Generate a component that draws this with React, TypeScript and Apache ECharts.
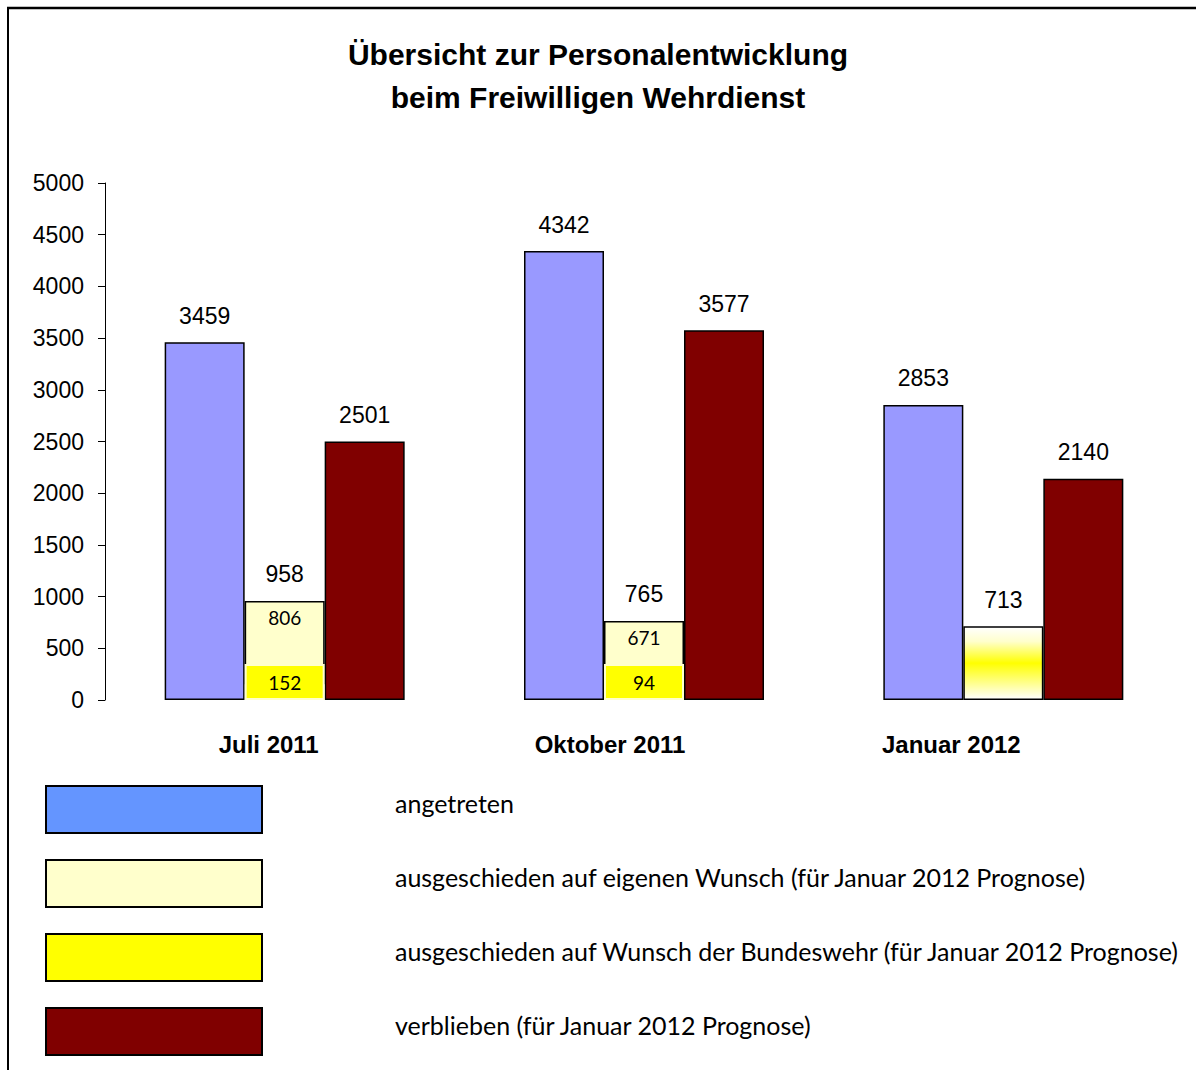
import React, { useEffect, useRef } from "react";
import * as echarts from "echarts";

const categories = ["Juli 2011", "Oktober 2011", "Januar 2012"];
const angetreten = [3459, 4342, 2853];
const eigenerWunsch = [806, 671, 713];
const wunschBundeswehr: (number | string)[] = [152, 94, "-"];
const gesamtAusgeschieden = [958, 765, 713];
const verblieben = [2501, 3577, 2140];
const yTicks = { min: 0, max: 5000, interval: 500 };

const legendNames = [
  "angetreten",
  "ausgeschieden auf eigenen Wunsch (für Januar 2012 Prognose)",
  "ausgeschieden auf Wunsch der Bundeswehr (für Januar 2012 Prognose)",
  "verblieben (für Januar 2012 Prognose)",
];

export default function App() {
  const ref = useRef<HTMLDivElement>(null);
  useEffect(() => {
    document.body.style.margin = "0";
    const chart = echarts.init(ref.current!, null, { renderer: "svg" });
    const border = { borderColor: "#000", borderWidth: 1.5 };
    const gradient = new echarts.graphic.LinearGradient(0, 0, 0, 1, [
      { offset: 0, color: "#ffffff" },
      { offset: 0.2, color: "#ffffcc" },
      { offset: 0.5, color: "#ffff00" },
      { offset: 1, color: "#ffffff" },
    ]);
    const arial = "'Liberation Sans', Arial, sans-serif";
    const calibri = "Lato, 'Noto Sans', sans-serif";
    chart.setOption({
      animation: false,
      backgroundColor: "#ffffff",
      title: {
        text: "Übersicht zur Personalentwicklung\nbeim Freiwilligen Wehrdienst",
        left: "center",
        top: 28,
        textStyle: {
          fontFamily: arial,
          fontWeight: "bold",
          fontSize: 30,
          lineHeight: 43,
          color: "#000",
        },
      },
      grid: [
        { left: 105, right: 13, top: 183, bottom: 370 },
        { left: 98, width: 1024, top: 183, bottom: 370 },
      ],
      xAxis: [
        {
          type: "category",
          gridIndex: 0,
          data: categories,
          axisLine: { show: false },
          axisTick: { show: false },
          axisLabel: { show: false },
        },
        {
          type: "category",
          gridIndex: 1,
          data: categories,
          axisLine: { show: false },
          axisTick: { show: false },
          axisLabel: {
            margin: 32,
            fontFamily: arial,
            fontWeight: "bold",
            fontSize: 24,
            color: "#000",
          },
        },
      ],
      yAxis: [
        {
          type: "value",
          gridIndex: 0,
          min: yTicks.min,
          max: yTicks.max,
          interval: yTicks.interval,
          axisLine: { show: true, lineStyle: { color: "#000", width: 1 } },
          axisTick: { show: true, length: 7, lineStyle: { color: "#000" } },
          splitLine: { show: false },
          axisLabel: {
            margin: 21,
            fontFamily: arial,
            fontSize: 23,
            color: "#000",
            formatter: (v: number) => String(v),
          },
        },
        {
          type: "value",
          gridIndex: 1,
          min: yTicks.min,
          max: yTicks.max,
          show: false,
        },
      ],
      legend: {
        orient: "vertical",
        left: 45,
        top: 785,
        padding: 0,
        itemWidth: 216,
        itemHeight: 47,
        itemGap: 25,
        icon: "rect",
        selectedMode: false,
        itemStyle: { borderColor: "#000", borderWidth: 2 },
        formatter: (name: string) => "{t|" + name + "}",
        textStyle: {
          rich: {
            t: {
              fontFamily: calibri,
              fontSize: 25,
              color: "#000",
              padding: [0, 0, 14, 128],
            },
          },
        },
        data: [
          { name: legendNames[0], itemStyle: { color: "#6495ff" } },
          { name: legendNames[1] },
          { name: legendNames[2] },
          { name: legendNames[3] },
        ],
      },
      series: [
        {
          name: legendNames[0],
          type: "bar",
          data: angetreten,
          barWidth: 80,
          barGap: "0%",
          itemStyle: { color: "#9999ff", ...border },
          label: {
            show: true,
            position: "top",
            distance: 15,
            fontFamily: arial,
            fontSize: 23,
            color: "#000",
          },
        },
        {
          name: legendNames[2],
          type: "bar",
          stack: "aus",
          data: wunschBundeswehr,
          barWidth: 80,
          barGap: "0%",
          barMinHeight: 36,
          z: 3,
          itemStyle: { color: "#ffff00", borderColor: "#ffffcc", borderWidth: 2 },
          label: {
            show: true,
            position: "inside",
            fontFamily: calibri,
            fontSize: 19,
            color: "#000",
          },
        },
        {
          name: legendNames[1],
          type: "bar",
          stack: "aus",
          barWidth: 80,
          barGap: "0%",
          data: eigenerWunsch.map((v, i) =>
            wunschBundeswehr[i] === "-"
              ? { value: v, itemStyle: { color: gradient }, label: { show: false } }
              : v
          ),
          itemStyle: { color: "#ffffcc", ...border },
          label: {
            show: true,
            position: "insideTop",
            distance: 7,
            fontFamily: calibri,
            fontSize: 19,
            color: "#000",
          },
        },
        {
          name: "gesamt",
          type: "bar",
          stack: "aus",
          barWidth: 80,
          barGap: "0%",
          data: gesamtAusgeschieden.map(() => 0),
          itemStyle: { color: "transparent", borderWidth: 0 },
          label: {
            show: true,
            position: "top",
            distance: 15,
            fontFamily: arial,
            fontSize: 23,
            color: "#000",
            formatter: (p: any) => String(gesamtAusgeschieden[p.dataIndex]),
          },
        },
        {
          name: legendNames[3],
          type: "bar",
          data: verblieben,
          barWidth: 80,
          barGap: "0%",
          itemStyle: { color: "#800000", ...border },
          label: {
            show: true,
            position: "top",
            distance: 15,
            fontFamily: arial,
            fontSize: 23,
            color: "#000",
          },
        },
      ],
      graphic: [
        {
          type: "line",
          shape: { x1: 7, y1: 8, x2: 1196, y2: 8 },
          style: { stroke: "#000", lineWidth: 2.5 },
        },
        {
          type: "line",
          shape: { x1: 8, y1: 8, x2: 8, y2: 1070 },
          style: { stroke: "#000", lineWidth: 2 },
        },
      ],
    });
    return () => chart.dispose();
  }, []);
  return <div ref={ref} style={{ width: 1196, height: 1070 }} />;
}
